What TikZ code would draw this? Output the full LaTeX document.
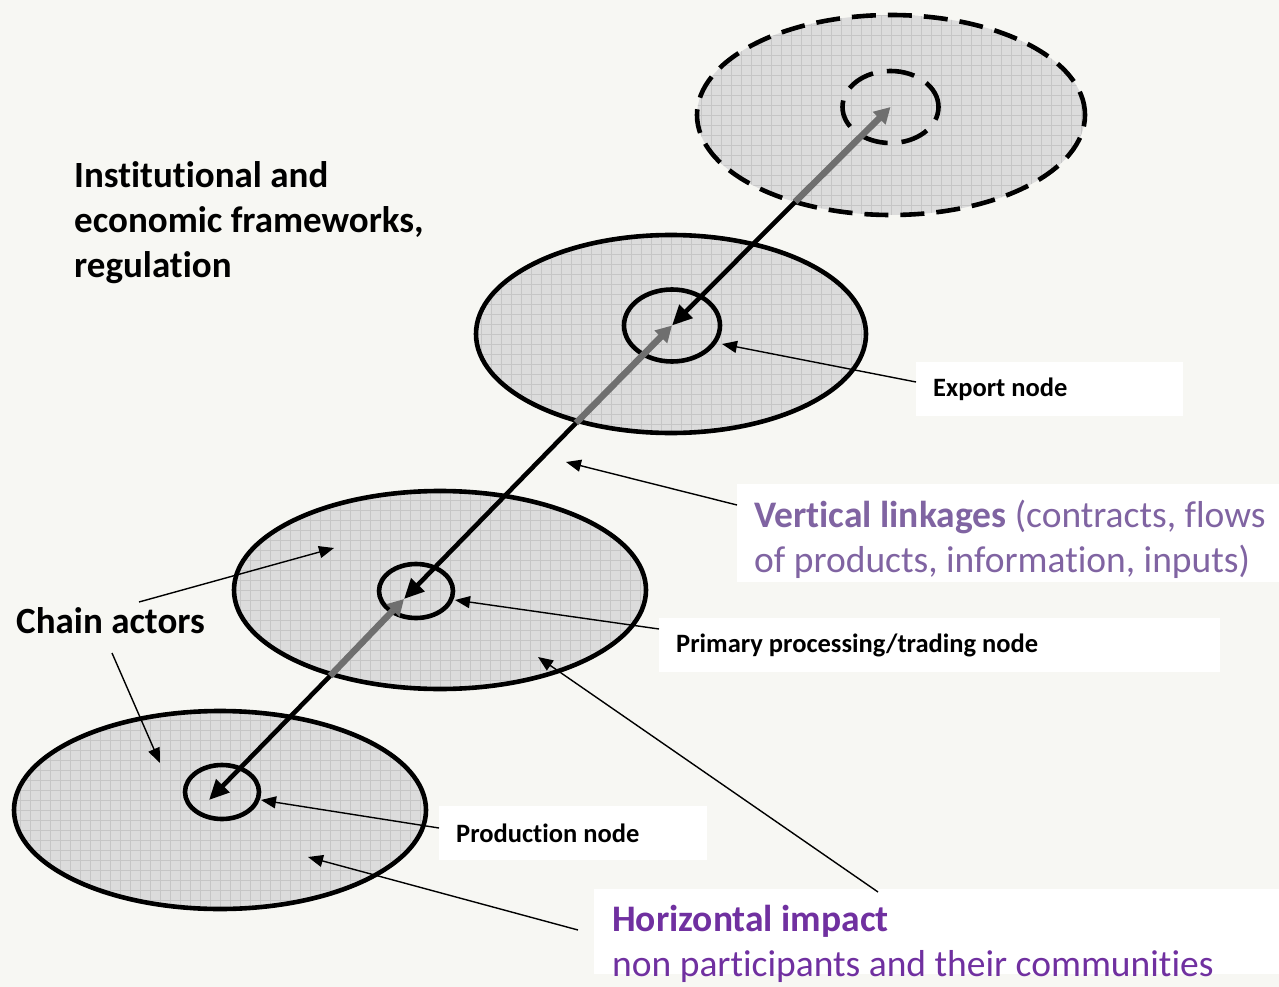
\documentclass[tikz,border=0pt]{standalone}
\usepackage{fontspec}
\setmainfont{Carlito}[Ligatures=NoCommon]
\usetikzlibrary{shapes.geometric,arrows.meta}
\definecolor{bg}{HTML}{F7F7F3}
\definecolor{discfill}{HTML}{DCDCDC}
\definecolor{gridc}{HTML}{C6C6C6}
\definecolor{flowgray}{HTML}{6F6F6F}
\definecolor{vpurple}{HTML}{8064A2}
\definecolor{hpurple}{HTML}{7030A0}
\newcommand\natspace{\spaceskip=0pt \xspaceskip=0pt\relax}
\begin{document}
\begin{tikzpicture}[x=1pt,y=-1pt,
  disc/.style={ellipse, draw=black, line width=4.6pt, fill=discfill, inner sep=0pt, outer sep=0pt,
    path picture={\draw[gridc, solid, line width=0.7pt, step=10pt] (path picture bounding box.south west) grid (path picture bounding box.north east);}},
  hub/.style={ellipse, draw=black, line width=4.6pt, inner sep=0pt, outer sep=0pt},
  dashring/.style={dash pattern=on 24pt off 12pt},
  dashhub/.style={dash pattern=on 28pt off 14pt},
  down/.style={line width=4.6pt, -{Triangle[length=20pt,width=18pt]}},
  up/.style={flowgray, line width=6.5pt, -{Triangle[length=16pt,width=17pt]}},
  pointer/.style={line width=1.4pt, -{Triangle[length=15pt,width=12pt]}},
  lbox/.style={fill=white, inner xsep=17pt, inner ysep=0pt, align=flush left},
  nodelabel/.style={font=\bfseries\fontsize{26.5pt}{32pt}\selectfont},
  biglabel/.style={font=\bfseries\fontsize{37pt}{45pt}\selectfont, inner sep=0pt},
  purplelabel/.style={font=\fontsize{37.5pt}{45pt}\selectfont, inner sep=0pt, align=left},
  whitebox/.style={fill=white, inner sep=0pt, anchor=north west},
]
\clip (0,0) rectangle (1279,987);
\fill[bg] (0,0) rectangle (1279,987);

% discs
\node[disc, dashring, minimum width=388pt, minimum height=200pt] (e1) at (891,115) {};
\node[hub, dashhub, minimum width=96pt, minimum height=72pt] (in1) at (890.5,107) {};
\node[disc, minimum width=390pt, minimum height=198pt] (e2) at (671,334) {};
\node[hub, minimum width=96pt, minimum height=72pt] (in2) at (672,325.5) {};
\node[disc, minimum width=412pt, minimum height=198pt] (e3) at (440,590) {};
\node[hub, minimum width=74pt, minimum height=54pt] (in3) at (416,591) {};
\node[disc, minimum width=412pt, minimum height=198pt] (e4) at (220,810) {};
\node[hub, minimum width=74pt, minimum height=54pt] (in4) at (222,792) {};

% junctions and tips
\coordinate (j1) at (795,202);
\coordinate (j2) at (576,423);
\coordinate (j3) at (330,676);
\coordinate (t3) at (404,599);
\coordinate (t4) at (209,800);

% flows
\draw[up] (j1) -- (in1.center);
\draw[down] (j1) -- (in2.center);
\draw[up] (j2) -- (in2.center);
\draw[down] (j2) -- (t3);
\draw[up] (j3) -- (t3);
\draw[down] (j3) -- (t4);

% texts
\node[biglabel, anchor=north west, align=left] (inst) at (74,157) {\rule{0pt}{30pt}Institutional and\\economic frameworks,\\regulation};
\node[biglabel, anchor=base west] (chain) at (16,633) {Chain actors};

% label boxes
\node[lbox, nodelabel, text width=233pt, minimum height=54pt, anchor=west] (exp) at (916,389) {\natspace Export node};
\node[lbox, nodelabel, text width=527pt, minimum height=54pt, anchor=west] (prim) at (659,645) {\natspace Primary processing/trading node};
\node[lbox, nodelabel, text width=234pt, minimum height=54pt, anchor=west] (prod) at (439,833) {\natspace Production node};
\node[whitebox, minimum width=600pt, minimum height=98pt] (vert) at (737,484) {};
\node[purplelabel, text=vpurple, anchor=north west] (vtext) at (754,497)
  {\rule{0pt}{30pt}\textbf{Vertical linkages} (contracts, flows\\of products, information, inputs)};
\node[whitebox, minimum width=700pt, minimum height=85pt] (hbox) at (594,889) {};
\node[purplelabel, text=hpurple, anchor=north west] (htext) at (612,905)
  {\rule{0pt}{25pt}\textbf{Horizontal impact}\\non participants and their communities};

% pointer coordinates
\coordinate (pexp) at (722,344);
\coordinate (pvert) at (566,462);
\coordinate (pprim) at (455,600);
\coordinate (pprod) at (261,800);
\coordinate (h1) at (578,930);
\coordinate (h2) at (878,892);
\coordinate (ph1) at (308,857);
\coordinate (ph2) at (538,657);
\coordinate (c1) at (139,602);
\coordinate (c2) at (112,653);
\coordinate (pc1) at (334,548);
\coordinate (pc2) at (160,763);

% pointers
\draw[pointer] ([yshift=7pt]exp.west) -- (pexp);
\draw[pointer] ([yshift=-21pt]vert.north west) -- (pvert);
\draw[pointer] ([yshift=16pt]prim.west) -- (pprim);
\draw[pointer] ([yshift=5pt]prod.west) -- (pprod);
\draw[pointer] (h1) -- (ph1);
\draw[pointer] (h2) -- (ph2);
\draw[pointer] (c1) -- (pc1);
\draw[pointer] (c2) -- (pc2);
\end{tikzpicture}
\end{document}
